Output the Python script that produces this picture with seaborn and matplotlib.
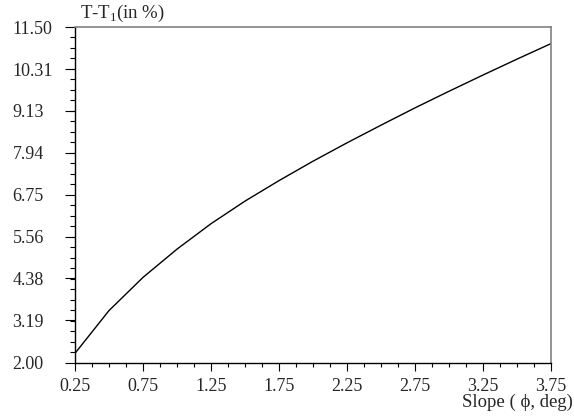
import numpy as np
import pandas as pd
import seaborn as sns
import matplotlib.pyplot as plt
from matplotlib.ticker import MultipleLocator, FixedLocator

slope = [0.25, 0.5, 0.75, 1.0, 1.25, 1.5, 1.75, 2.0, 2.25, 2.5, 2.75, 3.0, 3.25, 3.5, 3.75]
diff = [2.26, 3.47, 4.41, 5.21, 5.93, 6.57, 7.15, 7.70, 8.22, 8.72, 9.21, 9.68, 10.14, 10.59, 11.03]
xticks = [0.25, 0.75, 1.25, 1.75, 2.25, 2.75, 3.25, 3.75]
yticks = [2.00, 3.19, 4.38, 5.56, 6.75, 7.94, 9.13, 10.31, 11.50]

sns.set_theme(style="white")
plt.rcParams['font.family'] = ['Liberation Serif', 'DejaVu Serif']
plt.rcParams['mathtext.fontset'] = 'custom'
plt.rcParams['mathtext.rm'] = 'Liberation Serif'

df = pd.DataFrame({"slope": slope, "diff": diff})

fig = plt.figure(figsize=(5.74, 4.2), dpi=100)
ax = fig.add_axes([75 / 574, 1 - 362.5 / 420, 476 / 574, 335.5 / 420])
sns.lineplot(data=df, x="slope", y="diff", color="black", linewidth=1.0, ax=ax)

ax.set_xlim(0.25, 3.75)
ax.set_ylim(2.0, 11.5)
ax.xaxis.set_major_locator(FixedLocator(xticks))
ax.xaxis.set_minor_locator(MultipleLocator(0.125))
ax.yaxis.set_major_locator(FixedLocator(yticks))
ax.yaxis.set_minor_locator(FixedLocator(np.arange(2.0, 11.51, 1.1875 / 4)))
ax.set_xticklabels([f"{t:.2f}" for t in xticks])
ax.set_yticklabels([f"{t:.2f}" for t in yticks])

ax.tick_params(which="both", direction="out", color="black", width=0.8,
               left=True, bottom=True, top=False, right=False, labelsize=13)
ax.tick_params(axis="x", which="major", length=6, pad=5)
ax.tick_params(axis="x", which="minor", length=3)
ax.tick_params(axis="y", which="major", length=7, pad=38)
ax.tick_params(axis="y", which="minor", length=3.5)
for lab in ax.get_yticklabels():
    lab.set_horizontalalignment("left")

for s in ["left", "bottom"]:
    ax.spines[s].set_color("black")
    ax.spines[s].set_linewidth(1.0)
for s in ["top", "right"]:
    ax.spines[s].set_color("#808080")
    ax.spines[s].set_linewidth(1.2)

ax.set_xlabel("")
ax.set_ylabel("")
fig.text(80 / 574, 1 - 18 / 420, "T-T$_1$(in %)", fontsize=13.5, ha="left", va="baseline")
fig.text(573 / 574, 1 - 402 / 420, "Slope ( \u03d5, deg)", fontsize=13.5, ha="right", va="center")

fig.savefig("out.png", dpi=100)
